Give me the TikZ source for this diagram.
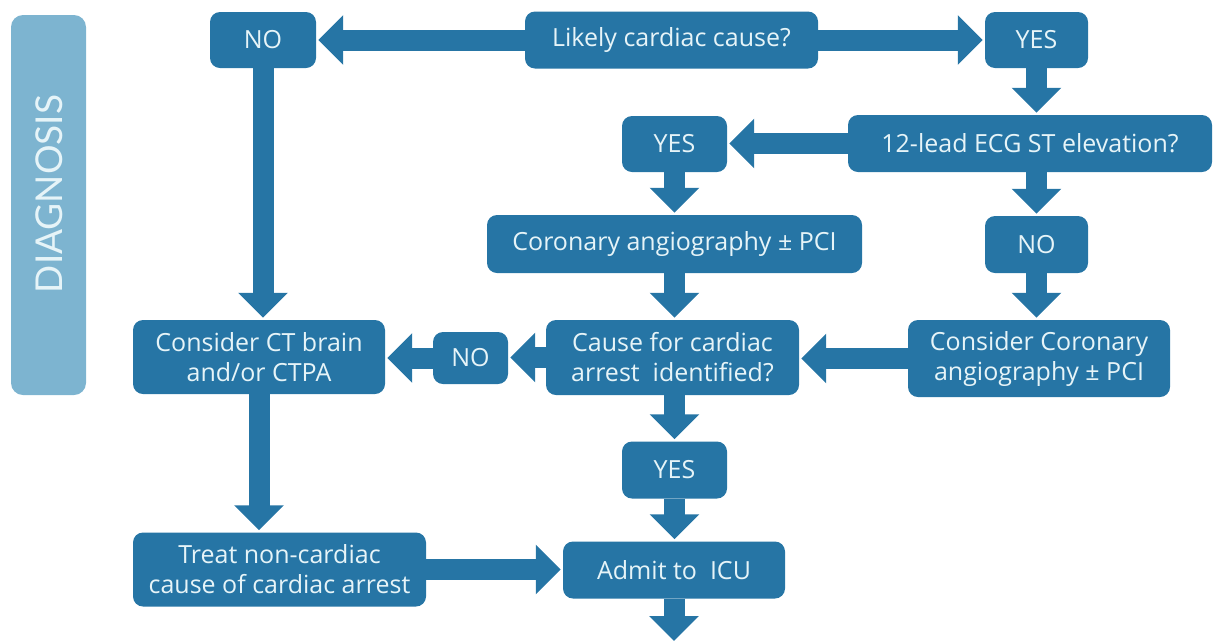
\documentclass[tikz,border=0pt]{standalone}
\usepackage{fontspec}
\setmainfont{Open Sans}
\newfontfamily\sidefont{Lato}
\usetikzlibrary{arrows.meta}
\definecolor{boxblue}{HTML}{2675A5}
\definecolor{sideblue}{HTML}{7DB4D0}
\definecolor{boxtext}{HTML}{E6F4F8}
\tikzset{
  fbox/.style={draw=none, fill=boxblue, rounded corners=10pt, text=boxtext,
    align=center, inner sep=0pt, font=\fontsize{25}{30}\selectfont},
  flow/.style={draw=boxblue, line width=21pt,
    -{Triangle[length=25pt,width=48pt]}, shorten >=2pt},
}
\begin{document}
\begin{tikzpicture}[x=1pt,y=-1pt]
\useasboundingbox (0,0) rectangle (1216,641);
% sidebar
\node[fill=sideblue, rounded corners=12pt, minimum width=75pt, minimum height=380pt,
  inner sep=0pt] (side) at (48.5,205) {};
\node[rotate=90, text=boxtext, font=\sidefont\fontsize{37}{40}\selectfont, inner sep=0pt]
  (sidetext) at (49,194) {DIAGNOSIS};
% boxes
\node[fbox, minimum width=106pt, minimum height=56pt] (no1) at (263,40) {NO};
\node[fbox, minimum width=293pt, minimum height=57pt] (lik) at (671.5,40) {Likely cardiac cause?};
\node[fbox, minimum width=103pt, minimum height=56pt] (yes1) at (1036.5,40) {YES};
\node[fbox, minimum width=364pt, minimum height=57pt] (ecg) at (1030,143.5) {12-lead ECG ST elevation?};
\node[fbox, minimum width=105pt, minimum height=56pt] (yes2) at (674.5,144) {YES};
\node[fbox, minimum width=375pt, minimum height=58pt] (cor) at (674.5,244) {Coronary angiography ± PCI};
\node[fbox, minimum width=103pt, minimum height=57pt] (no2) at (1036.5,244.5) {NO};
\node[fbox, minimum width=253pt, minimum height=75pt] (cause) at (672.5,357.5) {Cause for cardiac\\arrest\ \ identified?};
\node[fbox, minimum width=262pt, minimum height=77pt] (ccor) at (1039,358.5) {Consider Coronary\\angiography ± PCI};
\node[fbox, minimum width=75pt, minimum height=52pt] (no3) at (470.5,358) {NO};
\node[fbox, minimum width=252pt, minimum height=74pt] (ct) at (259,357) {Consider CT brain\\and/or CTPA};
\node[fbox, minimum width=293pt, minimum height=74pt] (treat) at (279.5,569.5) {Treat non-cardiac\\cause of cardiac arrest};
\node[fbox, minimum width=105pt, minimum height=57pt] (yes3) at (674.5,470) {YES};
\node[fbox, minimum width=222pt, minimum height=57pt] (admit) at (674,570) {Admit to\ \ ICU};
\coordinate (out) at (674,641);
% connectors
\draw[flow] (lik.west) -- (no1.east);
\draw[flow] (lik.east) -- (yes1.west);
\draw[flow] (yes1.south) -- (yes1.south |- ecg.north);
\draw[flow] (ecg.west) -- (ecg.west -| yes2.east);
\draw[flow] (yes2.south) -- (cor.north);
\draw[flow] (no2.north |- ecg.south) -- (no2.north);
\draw[flow] (no2.south) -- (no2.south |- ccor.north);
\draw[flow] (cor.south) -- (cor.south |- cause.north);
\draw[flow] (ccor.west) -- (ccor.west -| cause.east);
\draw[flow] (cause.west) -- (cause.west -| no3.east);
\draw[flow] (no3.west) -- (no3.west -| ct.east);
\draw[flow] (no1.south) -- (no1.south |- ct.north);
\draw[flow] (ct.south) -- (ct.south |- treat.north);
\draw[flow] (yes3.north |- cause.south) -- (yes3.north);
\draw[flow] (yes3.south) -- (yes3.south |- admit.north);
\draw[flow] (treat.east) -- (treat.east -| admit.west);
\draw[flow, shorten >=0pt] (admit.south) -- (out);
\end{tikzpicture}
\end{document}
